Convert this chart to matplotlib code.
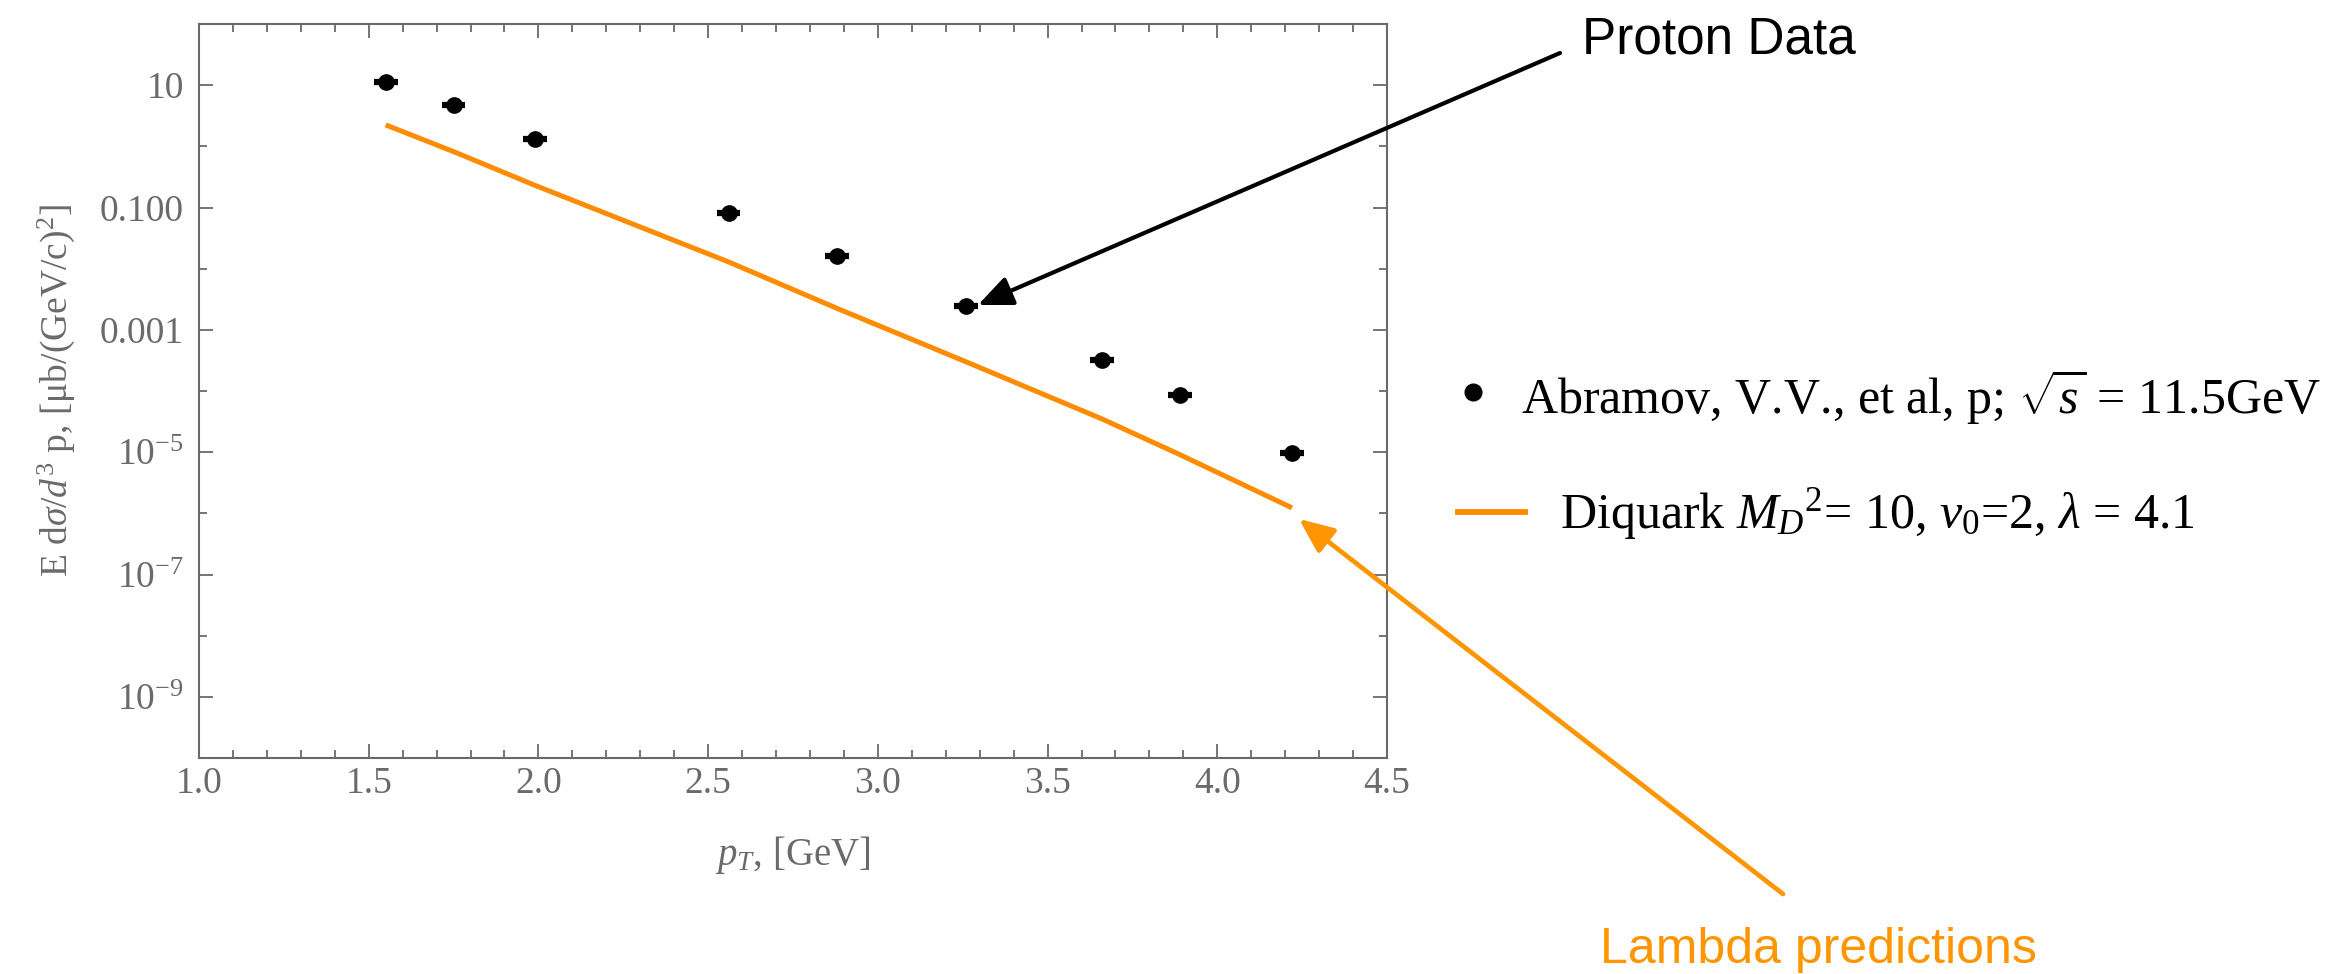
import matplotlib
matplotlib.use("Agg")
from matplotlib import pyplot as plt
from matplotlib.patches import FancyArrowPatch
from matplotlib.lines import Line2D

# proton data (Abramov et al) and diquark model curve
pt = [1.55, 1.75, 1.99, 2.56, 2.88, 3.26, 3.66, 3.89, 4.22]
pt_err = [0.035, 0.035, 0.035, 0.035, 0.035, 0.035, 0.035, 0.035, 0.035]
proton = [11.4, 4.74, 1.31, 0.0826, 0.0164, 0.00247, 3.16e-4, 8.5e-5, 9.8e-6]
diquark = [2.24, 0.82, 0.23, 0.0129, 0.00224, 3.0e-4, 3.5e-5, 9.1e-6, 1.23e-6]

ytick_major = [10, 0.1, 1e-3, 1e-5, 1e-7, 1e-9]
ytick_minor = [100, 1, 1e-2, 1e-4, 1e-6, 1e-8, 1e-10]
ytick_labels = ["10", "0.100", "0.001", r"$10^{-5}$", r"$10^{-7}$", r"$10^{-9}$"]
xtick_labels = ["1.0", "1.5", "2.0", "2.5", "3.0", "3.5", "4.0", "4.5"]

W, H = 2330, 974
plt.rcParams['font.family'] = ['Liberation Serif', 'DejaVu Serif']
plt.rcParams['mathtext.fontset'] = 'custom'
plt.rcParams['mathtext.rm'] = 'Liberation Serif'
plt.rcParams['mathtext.it'] = 'Liberation Serif:italic'
plt.rcParams['mathtext.bf'] = 'Liberation Serif:bold'

gray = '#6a6a6a'
orange = '#ff8c00'
orange2 = '#ff9500'

fig = plt.figure(figsize=(W / 100, H / 100), dpi=100)
ax = fig.add_axes([199 / W, 1 - 758 / H, (1387 - 199) / W, (758 - 24) / H])

ax.plot(pt, diquark, color=orange, lw=3.6, solid_capstyle='butt', zorder=2)
ax.errorbar(pt, proton, xerr=pt_err, fmt='o', color='black', ms=11,
            elinewidth=4.5, capsize=0, zorder=3)

ax.set_yscale('log')
ax.set_xlim(1.0, 4.5)
ax.set_ylim(1e-10, 1e2)

ax.set_yticks(ytick_major)
ax.set_yticklabels(ytick_labels)
ax.set_yticks(ytick_minor, minor=True)
ax.set_yticklabels([], minor=True)
ax.set_xticks([1.0, 1.5, 2.0, 2.5, 3.0, 3.5, 4.0, 4.5])
ax.set_xticklabels(xtick_labels)
ax.set_xticks([1.0 + 0.1 * i for i in range(36)], minor=True)

ax.tick_params(which='both', direction='in', top=True, right=True,
               color=gray, labelcolor=gray, labelsize=27)
ax.tick_params(which='major', length=10, width=1.3)
ax.tick_params(which='minor', length=5.8, width=1.3)
ax.tick_params(axis='y', which='major', pad=11)
ax.tick_params(axis='x', which='major', pad=6)
for s in ax.spines.values():
    s.set_color(gray)
    s.set_linewidth(1.5)

ax.set_xlabel(r"$p_T$, [GeV]", color=gray, fontsize=28, labelpad=24)
ax.set_ylabel(r"E d$\sigma$/$d^3$ p, [μb/(GeV/c)$^2$]", color=gray,
              fontsize=27, labelpad=16)

# legend drawn by hand (Mathematica-style layout)
def fpx(x, y):
    return x / W, 1 - y / H

fig.add_artist(Line2D([1473 / W], [1 - 392 / H], marker='o', color='black',
                      ms=12, transform=fig.transFigure))
fig.text(*fpx(1521, 413), r"Abramov, V.V., et al, p; $\sqrt{s}$ = 11.5GeV",
         fontsize=36, va='baseline', ha='left')
fig.add_artist(Line2D([1458 / W, 1525 / W], [1 - 512 / H, 1 - 512 / H],
                      color=orange, lw=4.2, transform=fig.transFigure))
fig.text(*fpx(1560, 528), r"Diquark $M_D{}^2$= 10, $\nu_0$=2, $\lambda$ = 4.1",
         fontsize=36, va='baseline', ha='left')

# annotations
sans = ['Liberation Sans', 'DejaVu Sans']
arr1 = FancyArrowPatch(fpx(1560, 53), fpx(978, 305), transform=fig.transFigure,
                       arrowstyle='-|>,head_length=1.5,head_width=0.65',
                       mutation_scale=14, lw=3, color='black',
                       shrinkA=0, shrinkB=0)
fig.add_artist(arr1)
fig.text(*fpx(1582, 53), "Proton Data", family=sans, fontsize=37,
         va='baseline', ha='left')

arr2 = FancyArrowPatch(fpx(1783, 894), fpx(1299, 519), transform=fig.transFigure,
                       arrowstyle='-|>,head_length=1.5,head_width=0.65',
                       mutation_scale=14, lw=3.4, color=orange2,
                       shrinkA=0, shrinkB=0)
fig.add_artist(arr2)
fig.text(*fpx(1600, 963), "Lambda predictions", family=sans, fontsize=36,
         va='baseline', ha='left', color=orange2)

fig.savefig("out.png", dpi=100)
